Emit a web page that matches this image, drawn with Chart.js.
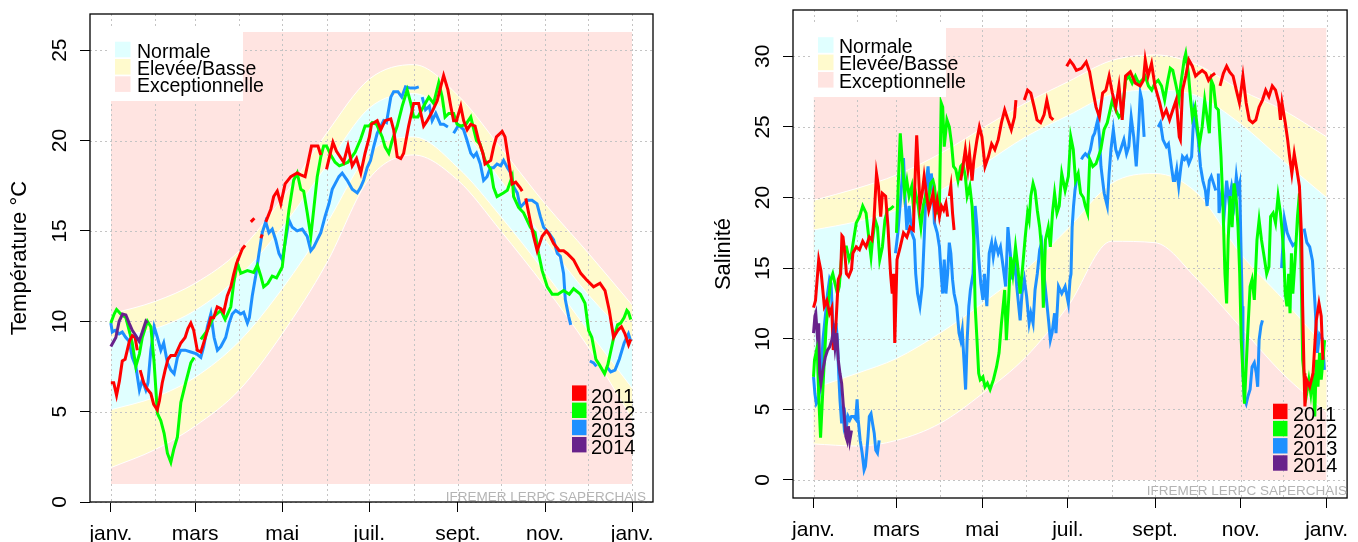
<!DOCTYPE html>
<html>
<head>
<meta charset="utf-8">
<script src="https://cdn.jsdelivr.net/npm/chart.js@4.4.1/dist/chart.umd.min.js"></script>
<style>
  body { margin: 0; background: #fff; }
  #wrap { position: relative; width: 1358px; height: 542px; }
  canvas { position: absolute; top: 0; }
</style>
</head>
<body>
<div id="wrap">
  <canvas id="temp" width="680" height="542" style="left:0"></canvas>
  <canvas id="sal" width="678" height="542" style="left:680px"></canvas>
</div>
<script>
const FONT = '"Liberation Sans", Arial, sans-serif';

// x axis: day of year, ticks on the first of each month
const monthDays = [0, 31, 59, 90, 120, 151, 181, 212, 243, 273, 304, 334, 365];
const monthLabels = ['janv.', '', 'mars', '', 'mai', '', 'juil.', '', 'sept.', '', 'nov.', '', 'janv.'];

const years = ['2011', '2012', '2013', '2014'];
const yearColors = ['#ff0000', '#00ff00', '#1e90ff', '#68228b'];
const bandLabels = ['Normale', 'Elevée/Basse', 'Exceptionnelle'];
const bandColors = ['#e0ffff', '#fffacd', '#ffe4e1'];

// ---- température : enveloppes saisonnières (au 1er de chaque mois)
const tempTicks = [0, 5, 10, 15, 20, 25];
const tempExc = [1, 26];
const tempHigh2 = [10.4, 11.1, 12.1, 13.9, 16.8, 20.4, 23.4, 24.2, 22.5, 19.6, 16.5, 13.8, 10.9];
const tempHigh1 = [9.1, 9.6, 10.6, 12.5, 15.2, 18.6, 21.8, 22.6, 20.9, 17.8, 14.5, 11.5, 8.9];
const tempLow1 = [5.1, 5.8, 6.9, 8.9, 11.8, 15.4, 19.3, 20.2, 18.5, 15.8, 12.7, 9.5, 6.3];
const tempLow2 = [1.9, 2.9, 4.2, 6.2, 9.3, 13.2, 17.9, 19.2, 17.8, 15.0, 11.9, 8.6, 4.6];

// ---- température : mesures [jour, valeur], null = lacune
const temp2011 = [[0,6.6],[2,6.6],[4,5.9],[6,6.7],[8,7.8],[10,7.9],[13,8.9],[15,9.2],[17,9.1],[18.5,8.4],[19.5,null],
  [20.5,7.3],[23,6.6],[25,6.3],[28,6.0],[30,5.4],[32.5,5.1],[34,5.6],[36,6.6],[38,7.3],[40,7.9],[42,8.1],[45,8.1],[49,8.8],[52,9.1],[54,9.6],[56,9.9],[58,9.5],[60.5,8.4],[63,8.3],[65,8.8],[68,9.6],[70,10.2],[72,10.2],[74.5,10.8],[77,10.7],[79,10.5],[81.5,11.4],[84,11.9],[86,12.6],[88,13.2],[90,13.6],[92,14.0],[94,14.2],[95,null],
  [98,15.5],[100.5,15.7],[101.5,null],[105,14.6],[106,14.8],[107,null],
  [108.5,15.5],[112,16.2],[114,16.9],[116.5,17.2],[119,16.5],[122,17.6],[126,18.0],[130.5,18.2],[133,18.1],[136,18.0],[140.5,19.7],[145,19.7],[147,19.2],[148,null],
  [151,18.4],[155.5,19.9],[158,19.4],[163,18.8],[166,19.7],[169,18.6],[172,19.0],[175,18.2],[178,19.3],[181,20.2],[182.5,20.9],[186.5,21.1],[189,20.6],[192,21.1],[196,21.2],[198,20.6],[200.5,19.1],[203,19.0],[205,19.3],[208.5,20.8],[212,22.05],[215.5,22.05],[219,20.8],[221.5,21.1],[225,21.6],[228.5,22.2],[231,23.0],[233,23.6],[236,22.8],[238,21.9],[240,21.1],[242,21.1],[245,21.9],[247,21.1],[249.5,20.6],[252,20.9],[255,20.8],[257.5,20.0],[260.5,19.3],[262,18.7],[266,18.9],[268,19.65],[270,20.2],[274,20.5],[276,20.2],[278.5,18.9],[281,17.6],[283.5,17.7],[286.5,17.4],[288,17.2],[289,null],
  [290.5,16.8],[293.5,15.6],[296,14.7],[298.5,13.9],[302,14.7],[305,15.0],[307,14.8],[310,14.3],[314,13.9],[317,13.9],[319.5,13.75],[324,13.4],[329,12.65],[333,12.3],[338,11.9],[342.5,12.1],[346,11.7],[349,10.6],[352,9.1],[355,9.5],[357.5,9.7],[360,9.3],[362.5,8.7],[364,9.0]];

const temp2012 = [[0,9.9],[2.3,10.4],[4,10.65],[7,10.4],[10.5,10.2],[12.8,9.5],[15,8.8],[17.5,7.5],[20,8.2],[22,9.1],[25.6,10.0],[28,9.7],[30.3,7.7],[32.6,4.9],[35,4.5],[37.3,3.8],[39.6,2.7],[42,2.2],[44,2.9],[46.6,3.6],[49,5.5],[52.4,6.6],[56,7.7],[58.3,8.0],[59.5,null],
  [63,9.0],[67.6,9.5],[72,10.25],[77,10.6],[80,10.1],[84,10.8],[86,12.1],[88.6,13.2],[91,12.65],[95.6,12.8],[100,12.7],[102.6,13.1],[105,12.5],[107,11.9],[110,12.1],[113,12.5],[116,12.4],[120,13.0],[122.4,14.7],[124.7,16.15],[128,17.8],[130.5,18.2],[133,17.3],[135,17.2],[137.5,16.0],[140,14.7],[142,16.15],[144.5,18.0],[147,19.1],[149,19.7],[151,19.7],[154,19.2],[157,18.8],[160,18.6],[163,18.7],[166,18.8],[171,19.35],[175,20.1],[178,20.8],[180.7,20.8],[183,21.0],[186,20.9],[190,20.2],[192,19.65],[194.6,19.3],[197,20.0],[200.5,20.8],[204,21.9],[207.5,22.8],[210,22.05],[212,21.3],[215,21.3],[219,21.9],[222.6,22.4],[226,22.05],[229.6,23.2],[232,22.4],[234,21.3],[236.6,21.5],[240,21.5],[242.4,20.9],[245,20.8],[248.6,20.9],[252,21.3],[256,20.0],[258.5,19.8],[262,18.9],[266,18.4],[268,17.4],[270.4,16.9],[274.8,17.1],[277.6,17.25],[281,18.0],[282,16.9],[285.5,16.3],[289,16.0],[293.7,15.2],[297,14.9],[299.5,13.75],[302,12.8],[305.6,11.9],[309,11.5],[313,11.5],[317,11.7],[321,11.5],[324,11.8],[328.7,11.5],[332,11.0],[334.5,9.5],[336.8,9.1],[339.6,7.9],[342,7.6],[345.7,7.1],[348,7.6],[351.8,9.0],[354.8,9.8],[357,9.9],[359.4,10.2],[361.3,10.6],[362.4,10.5],[364,10.1]];

const temp2013 = [[0,9.9],[1,9.4],[3,9.5],[5.8,9.3],[8,9.4],[10.5,9.1],[12.8,8.9],[15,8.0],[17.5,7.5],[20,6.2],[22,6.75],[24.5,6.2],[26,6.6],[28,8.4],[30.3,9.7],[32.6,9.1],[35,8.4],[37,8.8],[39.6,7.7],[42,7.3],[44.3,7.1],[46.6,8.0],[49,8.4],[52,8.4],[56,8.3],[60,8.2],[63,8.0],[65,8.6],[67.6,9.7],[70,10.4],[72.3,9.1],[74.6,8.4],[77,8.6],[80.4,9.1],[82.8,9.9],[85,10.4],[87.4,10.6],[91,10.4],[93,10.5],[95.6,9.9],[97,10.2],[99,11.4],[101.4,12.5],[103.7,13.75],[106,14.9],[108.4,15.5],[110.7,14.9],[113,15.1],[115.4,14.5],[117.7,13.75],[120,13.4],[122.4,14.5],[124.7,15.6],[127,15.2],[130.5,15.0],[134,15.1],[137.5,14.7],[140,13.9],[142,14.1],[144.5,14.5],[147,14.9],[150,15.8],[152.7,16.5],[155,17.3],[157,17.6],[159.7,18.0],[162,18.2],[165.5,17.8],[169,17.3],[172.5,17.1],[174.8,17.4],[177,17.8],[179.5,18.5],[181.8,18.9],[184,19.65],[186.5,20.4],[189,20.8],[191,21.1],[193,21.0],[196,22.4],[198,22.7],[201,22.7],[203.7,22.4],[206.3,22.97],[209.8,22.9],[213,22.9],[215.6,22.97],[216.5,null],
  [218,22.4],[220.3,21.7],[223,21.9],[225,21.1],[227.5,21.5],[230.8,20.9],[233,20.9],[236,20.75],[238,null],
  [240,20.4],[243.5,20.85],[247,20.6],[249.4,20.0],[252,19.3],[254,19.1],[256,19.3],[258.7,18.7],[261,17.8],[263.4,18.0],[265.7,18.5],[268,18.5],[270.4,18.7],[273,18.6],[275,18.9],[277.6,18.5],[280,18.2],[282.3,17.4],[284.6,17.1],[286.7,16.3],[289,16.5],[291.4,16.7],[294.9,16.7],[298.4,16.5],[300.7,15.8],[303,15.2],[306.5,14.9],[310,14.5],[312.6,13.75],[314.7,13.6],[317,12.65],[318.2,11.2],[320.6,10.25],[322,9.8],[323,null],
  [335.4,7.8],[338,7.7],[340,7.5],[341,null],[347,7.5],[350,7.2],[353,7.3],[356,7.9],[359.4,8.8],[362.4,9.3],[364,8.9]];

const temp2014 = [[0,8.6],[3.5,9.1],[5.8,10.0],[8.2,10.4],[10.5,10.35],[12.8,9.9],[15,9.5],[17.5,9.2],[19.8,8.9],[22,9.4],[24.5,10.0],[25.6,9.9]];

// ---- salinité : enveloppes saisonnières
const salTicks = [0, 5, 10, 15, 20, 25, 30];
const salExc = [0, 32];
const salHigh2 = [19.8, 20.65, 21.6, 23.1, 24.9, 26.7, 28.2, 29.7, 30.1, 29.4, 27.6, 26.2, 24.3];
const salHigh1 = [17.7, 18.3, 19.1, 20.5, 22.3, 24.3, 25.8, 27.3, 27.6, 27.2, 25.2, 22.6, 20.0];
const salLow1 = [6.5, 7.55, 8.6, 10.4, 12.5, 14.9, 17.8, 21.0, 21.7, 20.3, 16.0, 12.8, 9.3];
const salLow2 = [2.55, 2.4, 2.8, 4.0, 6.1, 8.7, 12.3, 16.9, 16.8, 14.2, 10.8, 7.5, 4.8];

// ---- salinité : mesures
const sal2011 = [[0,12.2],[1.4,12.7],[3.7,15.6],[5.3,14.8],[7.7,12.3],[9.5,12.7],[11.4,11.8],[13,12.2],[14,9.2],[16,11.1],[17.6,14.2],[19.3,14.6],[20.2,17.3],[21,17.2],[22.3,16.05],[23.4,14.6],[25,14.4],[27,14.9],[28,16.05],[30.4,16.5],[32.7,16.3],[35,16.9],[37.4,16.5],[39.7,17.2],[41.5,17.0],[43,18.4],[44.8,21.7],[46.2,20.8],[47.8,18.65],[49,20.3],[51.3,20.1],[53,17.9],[54.8,14.6],[56,13.2],[57,14.6],[57.8,9.7],[59.4,15.6],[61.7,16.5],[64,17.5],[66.4,17.2],[68.7,17.9],[71,17.7],[72.2,21.2],[73.4,24.4],[74.5,22.2],[75.7,19.4],[77.3,20.3],[78.7,21.5],[80.3,20.3],[82,19.1],[83.3,19.6],[85,20.3],[86.6,18.9],[88,19.8],[89.6,18.65],[91,19.4],[92.6,19.1],[94.2,19.6],[95.4,18.65],[96,null],
  [96.6,20.1],[97.7,20.8],[98.9,18.9],[100,17.7],[101,null],
  [104.7,21.2],[106.3,22.2],[108,23.4],[109.8,22.0],[111,23.1],[112.8,21.2],[114,22.6],[116.3,24.1],[118,25.0],[119.8,24.3],[122,22.2],[124.4,22.9],[126.7,23.8],[129,23.4],[131.4,24.1],[133.7,25.3],[136,26.2],[138.3,25.5],[140.7,24.8],[143,25.7],[144,26.9],[145,null],
  [150,26.9],[152.3,27.6],[154.6,27.4],[157,26.4],[159,25.5],[161.6,25.3],[164,25.85],[166,26.9],[168.5,25.7],[170.6,25.5],[171,null],
  [180.1,29.3],[182.5,29.7],[184.8,29.4],[187,29.0],[190.6,29.15],[194,29.6],[196.4,28.9],[198.7,27.6],[201,26.4],[203.4,25.7],[205.7,27.4],[208,27.6],[210.3,28.6],[212.6,27.4],[215,26.4],[217.3,27.9],[219.6,25.5],[222,28.6],[225.4,28.9],[229,28.1],[232.4,27.9],[234.7,28.3],[236,29.75],[238,28.6],[240.5,29.5],[242.9,27.9],[246.3,26.7],[248.6,25.7],[251,26.2],[253.3,25.5],[255.6,26.2],[258,26.9],[260.2,24.3],[261,24.1],[262.5,27.6],[264.8,28.6],[267,29.75],[269.5,29.3],[271.8,28.6],[274,28.8],[276.5,29.0],[279,28.8],[281,28.3],[283,28.6],[285.7,28.8],[287,null],
  [289.2,27.9],[291.6,28.8],[293.9,29.3],[296,28.9],[298.5,28.6],[300.8,27.6],[303,26.7],[305.5,28.6],[307.8,26.7],[310,25.5],[312.4,25.3],[314.7,25.5],[317,26.4],[319.4,26.9],[321.7,27.6],[324,27.15],[326.4,27.9],[328.7,27.6],[331,26.7],[332.2,25.5],[333.3,26.7],[335.6,25.3],[337.3,24.1],[338.7,22.9],[340.3,21.7],[342,23.1],[343.8,22.0],[345.7,20.8],[347.3,17.0],[348,12.3],[349,7.55],[349.6,5.2],[350.8,7.1],[353,6.6],[355.4,7.55],[357.7,11.3],[359.6,12.5],[361.2,11.6],[362.4,8.5]];

const sal2012 = [[0,7.3],[0.7,8.5],[2.6,9.4],[3.7,5.9],[5,3.0],[7.2,7.55],[9,10.9],[10.7,12.7],[12.3,14.2],[13.7,14.6],[15.3,13.9],[17,13.2],[18.3,13.7],[20,15.8],[21,16.5],[23.4,16.5],[25.3,15.6],[27,16.05],[28.5,17.0],[30.4,18.2],[32.7,18.65],[35,19.4],[37.4,18.9],[39.7,16.8],[40.9,15.8],[42,17.0],[43.9,18.4],[45.5,17.9],[47.1,15.6],[49,16.5],[50.8,18.4],[52.5,19.1],[54.8,19.2],[57,19.4],[58,null],
  [59,17.5],[60.6,21.7],[61.7,24.55],[63.4,22.2],[64.8,20.3],[66.4,21.2],[68,20.1],[69.9,20.8],[71,19.4],[72.7,20.3],[74.5,19.4],[76.4,17.9],[78,19.4],[79.6,20.1],[81.5,19.4],[83.3,21.0],[85,21.2],[86,20.8],[88,18.9],[89.5,18.9],[90.8,26.7],[91.9,26.4],[93,23.6],[94.9,25.5],[96.6,25.0],[98.2,23.8],[99.6,22.2],[101.2,22.0],[102.8,21.2],[104.7,22.2],[106.3,22.4],[108,21.5],[109.3,20.1],[111.2,20.8],[112.8,19.4],[114,17.0],[115,12.3],[116.3,9.9],[117.5,7.55],[118.6,7.1],[120.5,7.3],[122,6.6],[123.7,6.85],[125.6,6.4],[128,7.1],[130.2,8.0],[132,9.0],[133.7,11.1],[134.9,12.3],[136,13.45],[137.2,9.9],[138.8,12.75],[140.2,15.8],[141.8,14.6],[143.7,16.5],[145.3,15.1],[147,13.2],[148.8,15.1],[150.6,17.2],[152.3,18.9],[153.4,18.4],[154.6,20.1],[156.2,21.0],[157.6,20.5],[159.2,19.1],[160.9,17.9],[162.3,16.3],[163.5,12.2],[165,17.0],[167,17.9],[168.5,16.5],[170,18.9],[171.5,20.3],[173.2,18.9],[174.8,19.4],[176.6,21.7],[179,20.5],[181.3,21.5],[183,24.3],[184.8,23.4],[186.4,21.2],[188.3,21.7],[190,20.3],[192,20.0],[193.4,19.4],[195,18.9],[196.5,22.7],[198.7,22.2],[201,22.4],[204.4,23.4],[206.7,24.8],[209,25.3],[212.6,26.9],[215,26.2],[217.3,25.7],[219.6,26.0],[222,28.3],[224.3,28.6],[226.7,28.1],[229,28.6],[231.3,28.1],[233.6,28.3],[236,28.6],[238.3,27.9],[240.6,27.6],[242.9,28.1],[245.2,28.3],[247.6,27.9],[249.8,26.9],[252.1,28.3],[253.8,29.15],[255.6,29.0],[258,27.9],[260,26.9],[261.4,28.1],[263.7,29.75],[264.8,30.2],[266.7,28.8],[268.3,26.9],[269.5,25.7],[271.4,26.4],[273,25.0],[274.6,23.8],[276.5,25.0],[278.3,26.9],[280,25.7],[281.6,24.55],[283,28.3],[284.6,27.9],[286.2,26.4],[288,26.2],[289.9,22.9],[291.3,19.4],[292.7,14.6],[293.9,12.5],[295,17.0],[296.4,20.1],[297.8,17.9],[299.2,21.0],[300.8,19.8],[302,17.9],[303.2,14.6],[304.3,9.9],[305.5,7.55],[306.6,5.4],[309,10.6],[310.6,13.7],[312,14.2],[313.6,12.75],[315.5,17.0],[317,18.4],[318.7,17.0],[320.6,15.8],[322.4,14.6],[324,15.1],[325.2,18.65],[327,18.9],[328.7,18.2],[330.5,20.1],[332.2,18.9],[333.3,17.7],[334.5,16.05],[335.6,13.2],[336.8,12.3],[338,14.6],[339,11.8],[340,16.05],[341,13.2],[342.6,15.6],[344.3,18.65],[345.7,20.3],[346.6,16.5],[348,8.5],[349.4,7.1],[350.8,6.1],[352.4,7.1],[353.8,6.1],[355.4,7.55],[356.6,4.5],[357.7,8.5],[358.9,6.6],[360,9.0],[361.2,7.1],[362.4,8.5],[363.6,9.9]];

const sal2013 = [[0,7.3],[1,6.1],[2,5.4],[3.7,5.7],[5.3,7.3],[6.7,9.9],[8.4,11.6],[10,13.2],[11.4,14.2],[12.5,13.9],[13.7,11.1],[14.6,9.9],[16,11.1],[17,9.9],[17.9,7.55],[18.8,5.7],[20,4.0],[20.7,5.2],[21.6,4.0],[22.5,4.5],[23.4,3.8],[24.6,4.5],[25.8,4.25],[27,4.5],[28.5,4.5],[30,4.3],[31,5.7],[31.8,4.25],[33.2,2.8],[34.6,1.9],[36,0.7],[36.9,0.95],[37.8,1.9],[38.8,3.1],[39.7,4.5],[40.9,4.7],[42,4.0],[43.2,3.3],[44.3,2.1],[45.5,1.9],[46.7,2.8],[47.5,null],
  [58.3,16.05],[60,17.5],[61.7,19.6],[62.9,21.2],[64,22.8],[65.2,19.8],[66.4,17.7],[68,19.4],[69.9,17.5],[71.7,17.0],[72.7,14.6],[74,13.2],[75.7,12.3],[77.3,13.7],[78.7,17.0],[80.3,21.2],[81.5,22.2],[82.6,20.3],[83.8,21.7],[85,20.5],[86,18.2],[88,17.5],[89.6,16.5],[90.8,14.6],[91.9,13.2],[93,15.6],[94.2,13.2],[95.4,14.6],[96.6,16.8],[97.7,16.05],[98.9,14.2],[100,13.2],[101.9,12.3],[103.5,10.4],[104.7,9.9],[105.8,10.6],[107,8.5],[108.2,6.4],[109.3,9.9],[110.5,12.3],[111.6,13.45],[113.5,14.6],[115,19.4],[116.3,17.9],[117.5,15.8],[119,13.9],[120.5,12.75],[121.6,14.6],[123.3,12.3],[125,16.05],[126.7,16.8],[127.9,15.8],[129.5,16.8],[131.4,16.05],[133,16.5],[134.9,15.1],[136.7,13.7],[138.3,17.9],[140,16.05],[141.4,14.2],[143,15.8],[144.6,13.7],[146,12.3],[147,11.3],[148.3,13.2],[150,14.2],[151.6,13.0],[153.4,11.1],[154.6,11.8],[156.2,11.1],[157.6,13.45],[159.2,14.6],[160.9,16.3],[162.3,16.8],[163.9,14.6],[165.5,13.0],[167.4,11.1],[168.5,9.9],[169.7,10.4],[171.5,11.8],[172.5,10.4],[174.3,13.7],[176.6,13.2],[179,13.7],[181.3,12.5],[182.5,14.2],[183.2,14.6],[184,17.9],[185,19.4],[186,20.5],[187,21.2],[188.3,21.5],[189,null],
  [190.6,22.7],[191.7,22.9],[193.4,23.1],[195.2,22.9],[197,23.4],[198.7,24.3],[200,24.55],[201,25.0],[202.2,25.5],[203.4,24.3],[204.5,22.2],[205.7,21.2],[206.8,20.3],[208,19.8],[209,19.4],[210.3,21.7],[211.6,23.4],[213.3,24.8],[215,23.4],[216.6,22.9],[218.5,23.4],[220.8,24.1],[222.7,23.1],[224.3,23.6],[226,25.7],[227.8,24.3],[229.6,22.2],[231.3,25.0],[232.5,27.4],[233.6,26.9],[235.2,24.3],[236,null],
  [245.2,25.0],[246.8,25.3],[248.6,24.1],[251,23.6],[252.5,23.8],[254.6,22.2],[256,21.2],[257,21.2],[258.4,22.0],[259.8,20.8],[261.4,22.2],[262.5,22.9],[264,22.7],[265.5,22.9],[267,22.4],[269,22.9],[270.6,26.0],[272.3,25.0],[273.7,24.1],[275.3,22.2],[277,21.2],[278.8,20.5],[280,19.4],[281.6,21.2],[283,21.5],[284.6,21.0],[286.2,20.5],[287,null],
  [288,21.7],[288.5,18.9],[290.4,20.3],[292.2,18.9],[293.9,21.2],[295.5,19.8],[297.4,20.8],[299.2,19.6],[300.8,21.5],[302,20.5],[303.2,21.0],[304,17.0],[305,12.3],[305.5,7.55],[306.6,5.7],[307.8,5.4],[309,5.9],[310.6,6.4],[312,8.0],[313.6,8.3],[315,7.55],[316,6.6],[317,9.9],[318.3,10.9],[319.4,11.3],[320,null],
  [333,15.0],[335,18.5],[337,17.5],[339,17.0],[341,16.6],[343,16.8],[344,null],
  [349,17.8],[351,16.8],[353,16.5],[355,15.5],[357,12.0],[358.5,9.0],[360,10.3],[362,10.0],[363.5,7.8]];

const sal2014 = [[0,10.4],[1,11.6],[1.6,11.8],[2.6,10.4],[3.7,11.1],[4.4,7.55],[5.3,6.85],[6.7,7.8],[8.4,8.7],[10,9.2],[11.4,9.4],[13,9.9],[14.2,10.6],[15.3,9.4],[16.5,10.4],[17.6,8.5],[18.8,7.55],[20,6.85],[21.1,5.4],[22.3,4.0],[23,3.1],[23.9,2.8],[24.8,3.8],[25.8,2.8],[27,3.5]];

function drawGrid(chart) {
  const { ctx, chartArea: a, scales } = chart;
  ctx.save();
  ctx.strokeStyle = '#c4c4c4';
  ctx.lineWidth = 1;
  ctx.setLineDash([2, 3]);
  ctx.beginPath();
  scales.x.ticks.forEach(t => {
    const px = Math.round(scales.x.getPixelForValue(t.value)) + 0.5;
    ctx.moveTo(px, a.top);
    ctx.lineTo(px, a.bottom);
  });
  scales.y.ticks.forEach(t => {
    const py = Math.round(scales.y.getPixelForValue(t.value)) + 0.5;
    ctx.moveTo(a.left, py);
    ctx.lineTo(a.right, py);
  });
  ctx.stroke();
  ctx.restore();
}

function panel(id, o) {
  const xy = pts => pts.map(p => ({ x: p[0], y: p[1] }));
  const line = (pts, k, order) => ({
    data: xy(pts), borderColor: yearColors[k], borderWidth: 3,
    pointRadius: 0, tension: 0, spanGaps: false, fill: false, order
  });
  const edge = (vals, fill, bg, order) => ({
    data: monthDays.map((d, i) => ({ x: d, y: vals[i] })),
    borderColor: '#fff', borderWidth: 1, pointRadius: 0,
    cubicInterpolationMode: 'monotone', fill, backgroundColor: bg, order
  });

  const datasets = [
    line(o.series[3], 3, 0),
    line(o.series[0], 0, 1),
    line(o.series[1], 1, 2),
    line(o.series[2], 2, 3),
    edge(o.high1, 5, bandColors[0], 11),
    edge(o.low1, false, 'rgba(0,0,0,0)', 10),
    edge(o.high2, 7, bandColors[1], 21),
    edge(o.low2, false, 'rgba(0,0,0,0)', 20),
    {
      data: [{ x: 0, y: o.exc[1] }, { x: 365, y: o.exc[1] }],
      borderColor: 'rgba(0,0,0,0)', borderWidth: 1, pointRadius: 0,
      fill: { value: o.exc[0] }, backgroundColor: bandColors[2], order: 30
    }
  ];

  const decor = {
    id: 'decor',
    afterDatasetDraw(chart, args) {
      if (args.index === 5) drawGrid(chart);
    },
    afterDraw(chart) {
      const { ctx, chartArea: a, scales: { y } } = chart;
      ctx.save();
      ctx.strokeStyle = '#000';
      ctx.lineWidth = 1.3;
      ctx.strokeRect(a.left, a.top, a.right - a.left, a.bottom - a.top);

      // y tick labels, written along the axis
      ctx.fillStyle = '#000';
      ctx.textAlign = 'center';
      ctx.textBaseline = 'middle';
      ctx.font = '21px ' + FONT;
      y.ticks.forEach(t => {
        ctx.save();
        ctx.translate(o.tickX, y.getPixelForValue(t.value));
        ctx.rotate(-Math.PI / 2);
        ctx.fillText(String(t.value), 0, 0);
        ctx.restore();
      });

      ctx.save();
      ctx.translate(o.titleX, (a.top + a.bottom) / 2);
      ctx.rotate(-Math.PI / 2);
      ctx.font = '22px ' + FONT;
      ctx.fillText(o.title, 0, 0);
      ctx.restore();

      // band legend, top left
      const L = o.bandLegend;
      ctx.fillStyle = '#fff';
      ctx.fillRect(L.x, L.y, L.w, L.h);
      ctx.textAlign = 'left';
      ctx.textBaseline = 'alphabetic';
      ctx.font = '19.5px ' + FONT;
      bandLabels.forEach((s, i) => {
        ctx.fillStyle = bandColors[i];
        ctx.fillRect(L.sx, L.rows[i] - 7.8, 15.5, 15.6);
        ctx.fillStyle = '#000';
        ctx.fillText(s, L.tx, L.rows[i] + 8);
      });

      // year legend, bottom right
      const Y = o.yearLegend;
      ctx.font = '20px ' + FONT;
      years.forEach((s, i) => {
        ctx.fillStyle = yearColors[i];
        ctx.fillRect(Y.sx, Y.rows[i] - 7.6, 14.5, 15.4);
        ctx.fillStyle = '#000';
        ctx.fillText(s, Y.tx, Y.rows[i] + 9.5);
      });

      ctx.fillStyle = '#b4b4b4';
      ctx.font = '13.5px ' + FONT;
      ctx.textAlign = 'right';
      ctx.fillText('IFREMER LERPC SAPERCHAIS', o.mark[0], o.mark[1]);
      ctx.restore();
    }
  };

  return new Chart(document.getElementById(id), {
    type: 'line',
    data: { datasets },
    options: {
      responsive: false,
      animation: false,
      events: [],
      layout: { padding: o.padding },
      plugins: { legend: { display: false }, tooltip: { enabled: false } },
      scales: {
        x: {
          type: 'linear', min: -14.6, max: 379.6,
          afterBuildTicks: s => { s.ticks = monthDays.map(v => ({ value: v })); },
          afterFit: s => { s.height = o.xHeight; },
          border: { display: false },
          grid: {
            drawOnChartArea: false, tickLength: 10, tickWidth: 1,
            tickColor: c => (c.index % 2 ? 'rgba(0,0,0,0)' : '#000')
          },
          ticks: {
            autoSkip: false, maxRotation: 0, minRotation: 0, padding: 10,
            color: '#000', font: { family: FONT, size: 21 },
            callback: (v, i) => monthLabels[i]
          }
        },
        y: {
          type: 'linear', min: o.yMin, max: o.yMax,
          afterBuildTicks: s => { s.ticks = o.ticks.map(v => ({ value: v })); },
          afterFit: s => { s.width = o.yWidth; },
          border: { display: false },
          grid: { drawOnChartArea: false, tickLength: 10, tickWidth: 1, tickColor: '#000' },
          ticks: { display: false }
        }
      }
    },
    plugins: [decor]
  });
}

panel('temp', {
  series: [temp2011, temp2012, temp2013, temp2014],
  high2: tempHigh2, high1: tempHigh1, low1: tempLow1, low2: tempLow2,
  exc: tempExc, ticks: tempTicks, yMin: 0, yMax: 27,
  padding: { top: 14, right: 27, left: 0, bottom: 0 },
  yWidth: 90, xHeight: 40,
  tickX: 60, titleX: 20, title: 'Température °C',
  bandLegend: { x: 110, y: 28, w: 133, h: 73, sx: 115, tx: 137, rows: [49.5, 66.8, 84.1] },
  yearLegend: { sx: 572, tx: 591, rows: [393, 410.2, 427.4, 444.6] },
  mark: [646, 501]
});

panel('sal', {
  series: [sal2011, sal2012, sal2013, sal2014],
  high2: salHigh2, high1: salHigh1, low1: salLow1, low2: salLow2,
  exc: salExc, ticks: salTicks, yMin: -1.28, yMax: 33.28,
  padding: { top: 10, right: 1, left: 0, bottom: 0 },
  yWidth: 113, xHeight: 44,
  tickX: 83, titleX: 44, title: 'Salinité',
  bandLegend: { x: 133, y: 24, w: 133, h: 73, sx: 138, tx: 159, rows: [45, 62.4, 79.8] },
  yearLegend: { sx: 593, tx: 613, rows: [411.3, 428.5, 445.7, 462.9] },
  mark: [667, 495]
});
</script>
</body>
</html>
